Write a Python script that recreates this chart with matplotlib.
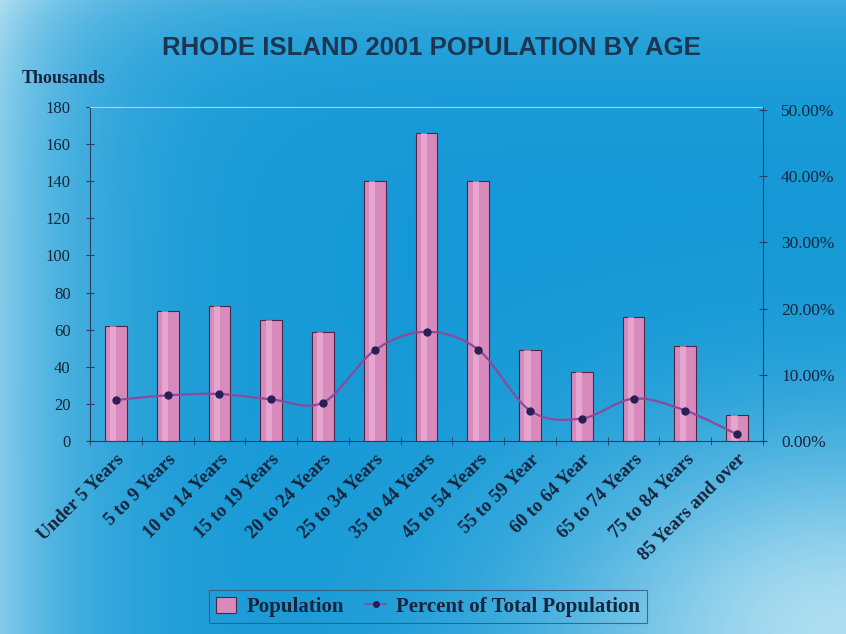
"""
Rhode Island 2001 population by age: bars for population (thousands)
with the share of total population on a secondary axis.
"""

import numpy as np
import matplotlib.pyplot as plt
from matplotlib.path import Path
from matplotlib.patches import PathPatch, Patch
from matplotlib.lines import Line2D

age_groups = [
    "Under 5 Years", "5 to 9 Years", "10 to 14 Years", "15 to 19 Years",
    "20 to 24 Years", "25 to 34 Years", "35 to 44 Years", "45 to 54 Years",
    "55 to 59 Year", "60 to 64 Year", "65 to 74 Years", "75 to 84 Years",
    "85 Years and over",
]
population = [62, 70, 73, 65, 59, 140, 166, 140, 49, 37, 67, 51, 14]
percent_total = [6.2, 6.9, 7.1, 6.3, 5.8, 13.7, 16.5, 13.8, 4.6, 3.4, 6.4, 4.6, 1.0]

left_ticks = [0, 20, 40, 60, 80, 100, 120, 140, 160, 180]
right_ticks = [0, 10, 20, 30, 40, 50]

TEXT = "#16243c"
BAR = "#d98abd"
LINE = "#8a4b9c"


def background(fig):
    """Paint a blue photo-like gradient behind everything."""
    h, w = 317, 423
    yy, xx = np.mgrid[0:1:h * 1j, 0:1:w * 1j]  # yy=0 at top
    base = np.array([0.08, 0.60, 0.84])
    light = np.array([0.88, 0.96, 0.98])
    glow_left = 0.55 * np.exp(-xx / 0.10)
    glow_br = 0.75 * np.exp(-(((1 - xx) / 0.35) ** 2 + ((1 - yy) / 0.30) ** 2))
    glow_top = 0.20 * np.exp(-yy / 0.08)
    k = np.clip(glow_left + glow_br + glow_top, 0, 1)[..., None]
    img = base * (1 - k) + light * k
    bg = fig.add_axes([0, 0, 1, 1], zorder=-10)
    bg.imshow(img, aspect="auto", extent=[0, 1, 0, 1])
    bg.axis("off")


def smooth_path(xs, ys):
    """Catmull-Rom style Bezier path through the given points."""
    pts = np.column_stack([xs, ys]).astype(float)
    verts = [pts[0]]
    codes = [Path.MOVETO]
    n = len(pts)
    for i in range(n - 1):
        p0 = pts[i - 1] if i > 0 else pts[i]
        p1, p2 = pts[i], pts[i + 1]
        p3 = pts[i + 2] if i + 2 < n else pts[i + 1]
        c1 = p1 + (p2 - p0) / 6
        c2 = p2 - (p3 - p1) / 6
        verts += [c1, c2, p2]
        codes += [Path.CURVE4] * 3
    return Path(verts, codes)


if __name__ == "__main__":
    fig = plt.figure(figsize=(8.46, 6.34), dpi=100)
    background(fig)

    ax = fig.add_axes([0.1064, 0.3044, 0.7955, 0.5268])
    ax.patch.set_alpha(0)
    x = np.arange(len(age_groups))

    ax.bar(x, population, width=0.42, color=BAR, edgecolor="#4a2845",
           linewidth=0.8, zorder=2)
    ax.bar(x - 0.05, population, width=0.12, color="#f0b8dc",
           linewidth=0, zorder=2.5, alpha=0.6)
    ax.set_xlim(-0.5, len(age_groups) - 0.5)
    ax.set_ylim(0, 180)
    ax.set_yticks(left_ticks)
    ax.set_yticklabels([str(v) for v in left_ticks], family="Liberation Serif",
                       fontsize=12, color=TEXT)
    ax.tick_params(axis="y", direction="inout", length=6, color="#2c3e5c", pad=11)

    ax.set_xticks(x)
    ax.set_xticklabels(age_groups, rotation=45, ha="right", rotation_mode="anchor",
                       family="Liberation Serif", fontweight="bold",
                       fontsize=13.5, color=TEXT)
    ax.set_xticks(np.arange(-0.5, len(age_groups)), minor=True)
    ax.tick_params(axis="x", which="major", length=0, pad=7)
    ax.tick_params(axis="x", which="minor", direction="inout", length=6,
                   color="#2c3e5c")

    for side in ["left", "bottom"]:
        ax.spines[side].set_color("#2c3e5c")
        ax.spines[side].set_linewidth(0.8)
    ax.spines["top"].set_color("#9fd6ee")
    ax.spines["top"].set_linewidth(0.8)
    ax.spines["right"].set_visible(False)

    ax2 = ax.twinx()
    ax2.set_ylim(0, 50.45)
    ax2.set_yticks(right_ticks)
    ax2.set_yticklabels([f"{v:.2f}%" for v in right_ticks],
                        family="Liberation Serif", fontsize=12.5, color=TEXT)
    ax2.tick_params(axis="y", direction="inout", length=6, color="#2c3e5c", pad=10)
    for side in ["left", "top", "bottom"]:
        ax2.spines[side].set_visible(False)
    ax2.spines["right"].set_color("#2c3e5c")
    ax2.spines["right"].set_linewidth(0.8)

    curve = PathPatch(smooth_path(x, percent_total), facecolor="none",
                      edgecolor=LINE, linewidth=1.6, zorder=3)
    ax2.add_patch(curve)
    ax2.plot(x, percent_total, linestyle="none", marker="o", markersize=5,
             color="#2a1f55", zorder=4)

    fig.text(0.51, 0.924, "RHODE ISLAND 2001 POPULATION BY AGE",
             ha="center", va="center", family="Liberation Sans",
             fontweight="bold", fontsize=18.5, color="#1c3550")
    fig.text(0.026, 0.876, "Thousands", ha="left", va="center",
             family="Liberation Serif", fontweight="bold", fontsize=13,
             color=TEXT)

    handles = [
        Patch(facecolor=BAR, edgecolor="#4a2845", linewidth=0.8),
        Line2D([0], [0], color=LINE, linewidth=1.2, marker="o",
               markersize=4, markerfacecolor="#2a1f55", markeredgecolor="#2a1f55"),
    ]
    leg = fig.legend(handles, ["Population", "Percent of Total Population"],
                     loc="center", bbox_to_anchor=(0.506, 0.043), ncol=2,
                     frameon=True, fancybox=False, handlelength=1.0,
                     handleheight=0.8, columnspacing=1.0, handletextpad=0.5,
                     borderpad=0.3,
                     prop={"family": "Liberation Serif", "weight": "bold",
                           "size": 15})
    leg.get_frame().set_facecolor("none")
    leg.get_frame().set_edgecolor("#3a5070")
    leg.get_frame().set_linewidth(0.8)
    for t in leg.get_texts():
        t.set_color(TEXT)

    fig.savefig("out.png", dpi=100)
